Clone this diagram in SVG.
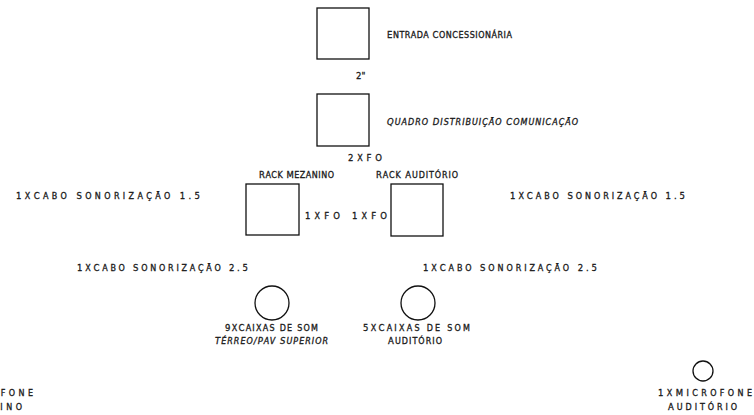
<svg xmlns="http://www.w3.org/2000/svg" width="754" height="415" viewBox="0 0 754 415">
<style>
.bx{fill:#fff;stroke:#111;stroke-width:1.3}
.t{font-family:"DejaVu Sans",sans-serif;font-size:8.5px;fill:#1a1a1a;stroke:#1a1a1a;stroke-width:0.3}
.s{font-size:11.2px;font-variant-caps:all-small-caps}
.i{font-style:italic}
</style>
<rect width="754" height="415" fill="#fff"/>
<g id="connectors"></g>
<g id="entrada">
<rect class="bx" x="317" y="8" width="52" height="51"/>
<text class="t" x="387" y="37.5" textLength="125" lengthAdjust="spacing">E<tspan class="s">ntrada</tspan> C<tspan class="s">oncessionária</tspan></text>
</g>
<g id="label-2">
<text class="t" x="356" y="79">2"</text>
</g>
<g id="quadro">
<rect class="bx" x="317" y="94" width="52" height="52"/>
<text class="t i" x="387" y="124.5" textLength="191" lengthAdjust="spacing">Q<tspan class="s">uadro</tspan> D<tspan class="s">istribuição</tspan> C<tspan class="s">omunicação</tspan></text>
</g>
<g id="label-2xfo">
<text class="t" x="348" y="161" textLength="34" lengthAdjust="spacing">2<tspan class="s">x</tspan>FO</text>
</g>
<g id="rack-mezanino">
<text class="t" x="259" y="178" textLength="75" lengthAdjust="spacing">R<tspan class="s">ack</tspan> M<tspan class="s">ezanino</tspan></text>
<rect class="bx" x="246" y="184" width="53" height="51"/>
</g>
<g id="rack-auditorio">
<text class="t" x="376" y="178" textLength="82" lengthAdjust="spacing">R<tspan class="s">ack</tspan> A<tspan class="s">uditório</tspan></text>
<rect class="bx" x="391" y="184" width="52" height="52"/>
</g>
<g id="labels-cabo">
<text class="t" x="16" y="198.5" textLength="184" lengthAdjust="spacing">1<tspan class="s">x</tspan>C<tspan class="s">abo</tspan> S<tspan class="s">onorização</tspan> 1.5</text>
<text class="t" x="510" y="199" textLength="175" lengthAdjust="spacing">1<tspan class="s">x</tspan>C<tspan class="s">abo</tspan> S<tspan class="s">onorização</tspan> 1.5</text>
<text class="t" x="305" y="219" textLength="35" lengthAdjust="spacing">1<tspan class="s">x</tspan>FO</text>
<text class="t" x="352" y="219" textLength="35" lengthAdjust="spacing">1<tspan class="s">x</tspan>FO</text>
<text class="t" x="77" y="271" textLength="171" lengthAdjust="spacing">1<tspan class="s">x</tspan>C<tspan class="s">abo</tspan> S<tspan class="s">onorização</tspan> 2.5</text>
<text class="t" x="423" y="271" textLength="174" lengthAdjust="spacing">1<tspan class="s">x</tspan>C<tspan class="s">abo</tspan> S<tspan class="s">onorização</tspan> 2.5</text>
</g>
<g id="caixas-terreo">
<circle class="bx" cx="272" cy="303" r="17"/>
<text class="t" x="225" y="331" textLength="93" lengthAdjust="spacing">9<tspan class="s">x</tspan>C<tspan class="s">aixas de som</tspan></text>
<text class="t i" x="215" y="344" textLength="113" lengthAdjust="spacing">T<tspan class="s">érreo</tspan>/P<tspan class="s">av</tspan> S<tspan class="s">uperior</tspan></text>
</g>
<g id="caixas-auditorio">
<circle class="bx" cx="418" cy="303" r="17"/>
<text class="t" x="363" y="331" textLength="107" lengthAdjust="spacing">5<tspan class="s">x</tspan>C<tspan class="s">aixas de som</tspan></text>
<text class="t" x="388" y="344" textLength="54" lengthAdjust="spacing">A<tspan class="s">uditório</tspan></text>
</g>
<g id="microfone-auditorio">
<circle class="bx" cx="703" cy="371" r="10"/>
<text class="t" x="658" y="396" textLength="94" lengthAdjust="spacing">1<tspan class="s">x</tspan>M<tspan class="s">icrofone</tspan></text>
<text class="t" x="668" y="410" textLength="69" lengthAdjust="spacing">A<tspan class="s">uditório</tspan></text>
</g>
<g id="microfone-mezanino">
<text class="t" x="-61" y="396" textLength="94" lengthAdjust="spacing">1<tspan class="s">x</tspan>M<tspan class="s">icrofone</tspan></text>
<text class="t" x="-47" y="410" textLength="69" lengthAdjust="spacing">M<tspan class="s">ezanino</tspan></text>
</g>
</svg>
